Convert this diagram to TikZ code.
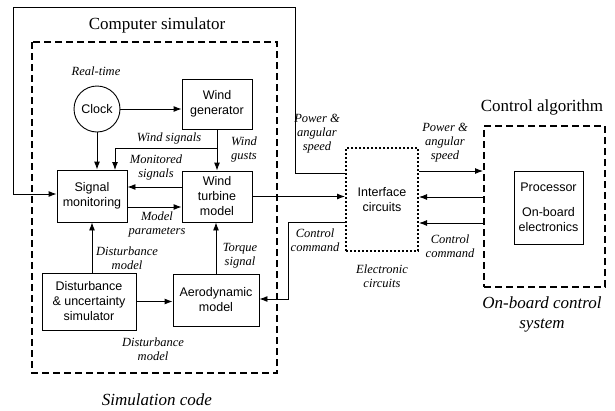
\documentclass[tikz,border=0pt]{standalone}
\usepackage{fontspec}
\setmainfont{Liberation Serif}
\setsansfont{Liberation Sans}
\usetikzlibrary{arrows.meta}
\tikzset{
  blk/.style={draw,line width=0.9pt,inner sep=1pt,align=center,font=\sffamily\fontsize{12.5}{15}\selectfont},
  lbl/.style={align=center,inner sep=0pt,font=\itshape\fontsize{12.5}{14}\selectfont},
  ttl/.style={align=center,inner sep=0pt,font=\fontsize{17}{20}\selectfont},
  ittl/.style={align=center,inner sep=0pt,font=\itshape\fontsize{17}{20}\selectfont},
  conn/.style={line width=0.9pt,-{Latex[length=8pt,width=6pt]}},
  wire/.style={line width=0.9pt},
  bigdash/.style={draw,line width=2pt,dash pattern=on 7pt off 4pt},
}
\begin{document}
\begin{tikzpicture}[x=1pt,y=-1pt]
\useasboundingbox (0,0) rectangle (615,410);
% computer simulator frame
\draw[bigdash] (32,42) rectangle (277,373);
% control frame
\node[bigdash,minimum width=121pt,minimum height=161pt,inner sep=0pt] (ctrl) at (544.5,206.5) {};
% blocks
\node[blk,circle,minimum size=46pt,inner sep=0pt] (clock) at (97,109) {Clock};
\node[blk,minimum width=70pt,minimum height=50pt] (wg) at (217,104) {Wind\\generator};
\node[blk,minimum width=70pt,minimum height=52pt] (sm) at (92,196) {Signal\\monitoring};
\node[blk,minimum width=70pt,minimum height=51pt] (wt) at (217,196.5) {Wind\\turbine\\model};
\node[blk,minimum width=94pt,minimum height=57pt] (dist) at (89,301.5) {Disturbance\\\&~uncertainty\\simulator};
\node[blk,minimum width=86pt,minimum height=52pt] (aero) at (216,300) {Aerodynamic\\model};
\node[draw,line width=2pt,dotted,minimum width=72pt,minimum height=103pt,inner sep=0pt,align=center,font=\sffamily\fontsize{12.5}{15}\selectfont] (ic) at (382,199.5) {Interface\\circuits};
\node[draw,line width=0.9pt,minimum width=69pt,minimum height=73pt,inner sep=0pt,align=center,font=\sffamily\fontsize{12.5}{15}\selectfont] (proc) at (548.5,207.5) {Processor\\[10pt]On-board\\electronics};
% coordinates
\coordinate (br) at (217,148);
\coordinate (smtop) at (115,170);
\coordinate (pw1) at (295,173);
\coordinate (pw2) at (295,7);
\coordinate (pw3) at (13,7);
\coordinate (pw4) at (13,194);
\coordinate (cc1) at (288,222);
\coordinate (cc2) at (288,299);
% connectors
\draw[conn] (clock.east) -- (clock.east -| wg.west);
\draw[conn] (clock.south) -- (clock.south |- sm.north);
\draw[conn] (wg.south) -- (wt.north);
\draw[conn] (br) -| (smtop);
\draw[conn] ([yshift=9.5pt]wt.west) -- ([yshift=9.5pt]wt.west -| sm.east);
\draw[conn] ([yshift=-11pt]sm.east) -- ([yshift=-11pt]sm.east -| wt.west);
\draw[conn] (dist.north -| sm.south) -- (sm.south);
\draw[conn] (aero.north) -- (aero.north |- wt.south);
\draw[conn] (dist.east) -- (dist.east -| aero.west);
\draw[conn] (pw1 -| ic.west) -- (pw1) -- (pw2) -- (pw3) -- (pw4) -- (pw4 -| sm.west);
\draw[conn] (cc1 -| ic.west) -- (cc1) -- (cc2) -- (cc2 -| aero.east);
\draw[conn] (wt.east) -- (wt.east -| ic.west);
\draw[conn] ([yshift=28.5pt]ic.east) -- ([yshift=28.5pt]ic.east -| ctrl.west);
\draw[conn] ([yshift=2.5pt]ic.east -| ctrl.west) -- ([yshift=2.5pt]ic.east);
\draw[conn] ([yshift=-23.5pt]ic.east -| ctrl.west) -- ([yshift=-23.5pt]ic.east);
% labels
\node[lbl] (l1) at (96,71) {Real-time};
\node[lbl] (l2) at (169,138) {Wind signals};
\node[lbl] (l3) at (244,149.5) {Wind\\gusts};
\node[lbl] (l4) at (156,167) {Monitored\\signals};
\node[lbl] (l5) at (157,224) {Model\\parameters};
\node[lbl] (l6) at (127,258) {Disturbance\\model};
\node[lbl] (l7) at (240,255.5) {Torque\\signal};
\node[lbl] (l8) at (153,349.5) {Disturbance\\model};
\node[lbl] (l9) at (317,133.5) {Power \&\\angular\\speed};
\node[lbl] (l10) at (315,240) {Control\\command};
\node[lbl] (l11) at (445,143) {Power \&\\angular\\speed};
\node[lbl] (l12) at (450,246.5) {Control\\command};
\node[lbl] (l13) at (382,276.5) {Electronic\\circuits};
\node[ttl] (t1) at (157,25) {Computer simulator};
\node[ttl] (t2) at (542,107) {Control algorithm};
\node[ittl] (t3) at (542,314) {On-board control\\system};
\node[ittl] (t4) at (157,400) {Simulation code};
\end{tikzpicture}
\end{document}
